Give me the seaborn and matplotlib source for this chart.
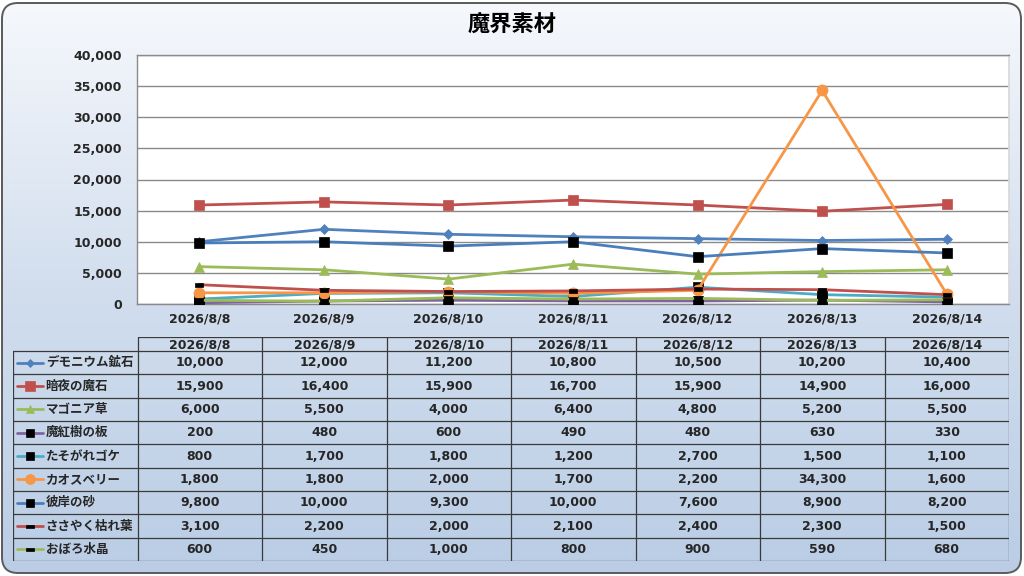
import numpy as np
import pandas as pd
import matplotlib
matplotlib.use("Agg")
import matplotlib.pyplot as plt
import seaborn as sns
from matplotlib.patches import FancyBboxPatch
from matplotlib.path import Path
from matplotlib.colors import LinearSegmentedColormap
from matplotlib.ticker import FuncFormatter, MultipleLocator

# %% data
dates = ["2026/8/8", "2026/8/9", "2026/8/10", "2026/8/11",
         "2026/8/12", "2026/8/13", "2026/8/14"]
names = ["デモニウム鉱石", "暗夜の魔石", "マゴニア草", "魔紅樹の板",
         "たそがれゴケ", "カオスベリー", "彼岸の砂", "ささやく枯れ葉", "おぼろ水晶"]
demonium = [10000, 12000, 11200, 10800, 10500, 10200, 10400]
anya = [15900, 16400, 15900, 16700, 15900, 14900, 16000]
magonia = [6000, 5500, 4000, 6400, 4800, 5200, 5500]
makouju = [200, 480, 600, 490, 480, 630, 330]
tasogare = [800, 1700, 1800, 1200, 2700, 1500, 1100]
chaos = [1800, 1800, 2000, 1700, 2200, 34300, 1600]
higan = [9800, 10000, 9300, 10000, 7600, 8900, 8200]
sasayaku = [3100, 2200, 2000, 2100, 2400, 2300, 1500]
oboro = [600, 450, 1000, 800, 900, 590, 680]
series = [demonium, anya, magonia, makouju, tasogare, chaos, higan, sasayaku, oboro]

# %% styles (Excel 2007 look)
dash = Path([(-1, -0.4), (1, -0.4), (1, 0.4), (-1, 0.4), (-1, -0.4)],
            [Path.MOVETO, Path.LINETO, Path.LINETO, Path.LINETO, Path.CLOSEPOLY])
line_colors = ["#4F81BD", "#C0504D", "#9BBB59", "#8064A2", "#4BACC6",
               "#F79646", "#4A7EBB", "#C0504D", "#9BBB59"]
markers = ["D", "s", "^", "s", "s", "o", "s", dash, dash]
marker_faces = ["#4F81BD", "#C0504D", "#9BBB59", "black", "black",
                "#F79646", "black", "black", "black"]
marker_sizes = [5, 7.5, 7, 7, 7, 8, 7, 6, 6]

rows = []
for name, vals in zip(names, series):
    for i, v in enumerate(vals):
        rows.append({"series": name, "x": i, "value": v})
df = pd.DataFrame(rows)

sns.set_theme(style="white")
# wide latin digits like the original, Japanese falls back to Noto CJK
plt.rcParams['font.family'] = ['DejaVu Sans', 'Noto Sans CJK JP']
FS = 9
W, H = 1024, 576
fig = plt.figure(figsize=(W / 100, H / 100), dpi=100)

# %% background: rounded frame with a vertical gradient
bg = fig.add_axes([0, 0, 1, 1])
bg.set_xlim(0, W)
bg.set_ylim(0, H)
bg.axis("off")
cmap = LinearSegmentedColormap.from_list("bg", ["#bacde5", "#d2deee", "#f6f8fc"])
grad = np.linspace(0, 1, 256).reshape(-1, 1)
im = bg.imshow(grad, cmap=cmap, extent=[0, W, 0, H], origin="lower", aspect="auto")
frame = FancyBboxPatch((2, 3), W - 5, H - 6, boxstyle="round,pad=0,rounding_size=16",
                       facecolor="none", edgecolor="#5a5a5a", linewidth=1.4)
bg.add_patch(frame)
im.set_clip_path(frame)

fig.text(0.5, 1 - 25 / H, "魔界素材", ha="center", va="center",
         fontsize=16, fontweight="bold", color="black",
         family=['Noto Sans CJK JP', 'DejaVu Sans'])

# %% line chart
ax = fig.add_axes([137 / W, 1 - 304 / H, (1009 - 137) / W, (304 - 55) / H])
ax.set_facecolor("white")
for k, name in enumerate(names):
    sns.lineplot(data=df[df["series"] == name], x="x", y="value", ax=ax,
                 color=line_colors[k], linewidth=2, marker=markers[k],
                 markersize=marker_sizes[k], markerfacecolor=marker_faces[k],
                 markeredgecolor=marker_faces[k], markeredgewidth=0.5, zorder=3 + k)
ax.set_xlim(-0.5, 6.5)
ax.set_ylim(0, 40000)
ax.yaxis.set_major_locator(MultipleLocator(5000))
ax.yaxis.set_major_formatter(FuncFormatter(lambda v, p: f"{int(v):,}"))
ax.set_xticks(range(len(dates)))
ax.set_xticklabels(dates)
ax.grid(axis="y", color="#8a8a8a", linewidth=1)
ax.set_axisbelow(True)
ax.set_xlabel("")
ax.set_ylabel("")
ax.tick_params(axis="y", length=0, pad=11, labelsize=FS)
ax.tick_params(axis="x", length=0, pad=6, labelsize=FS)
for lab in ax.get_xticklabels() + ax.get_yticklabels():
    lab.set_fontweight("bold")
for s in ["left", "bottom", "top"]:
    ax.spines[s].set_color("#8a8a8a")
    ax.spines[s].set_linewidth(1)
ax.spines["right"].set_color("#d8d8d8")

# %% data table
tab = fig.add_axes([13 / W, 1 - 561 / H, (1009 - 13) / W, (561 - 337) / H])
tab.set_xlim(-1.5, 6.5)
tab.set_ylim(224, 0)
tab.axis("off")
head_h = 14
row_h = (224 - head_h) / len(names)
lc = "#3a3a3a"
tab.plot([-0.5, 6.5], [0, 0], color=lc, lw=0.9)
for i in range(len(names) + 1):
    y = head_h + i * row_h
    tab.plot([-1.5, 6.5], [y, y], color=lc, lw=0.9)
tab.plot([-1.5, -1.5], [head_h, 224], color=lc, lw=0.9)
for c in range(len(dates) + 1):
    tab.plot([c - 0.5, c - 0.5], [0, 224], color=lc, lw=0.9)
for c, d in enumerate(dates):
    tab.text(c, head_h / 2 + 0.5, d, ha="center", va="center",
             fontsize=FS, fontweight="bold")
for k, (name, vals) in enumerate(zip(names, series)):
    yc = head_h + (k + 0.5) * row_h
    tab.plot([-1.468, -1.262], [yc, yc], color=line_colors[k], lw=2)
    tab.plot([-1.365], [yc], marker=markers[k], color=marker_faces[k],
             markersize=marker_sizes[k] * 0.9, markeredgewidth=0.5)
    tab.text(-1.238, yc, name, ha="left", va="center", fontsize=FS,
             fontweight="bold", family=['Noto Sans CJK JP', 'DejaVu Sans'])
    for c, v in enumerate(vals):
        tab.text(c, yc, f"{v:,}", ha="center", va="center",
                 fontsize=FS, fontweight="bold")

fig.savefig("out.png", dpi=100)
